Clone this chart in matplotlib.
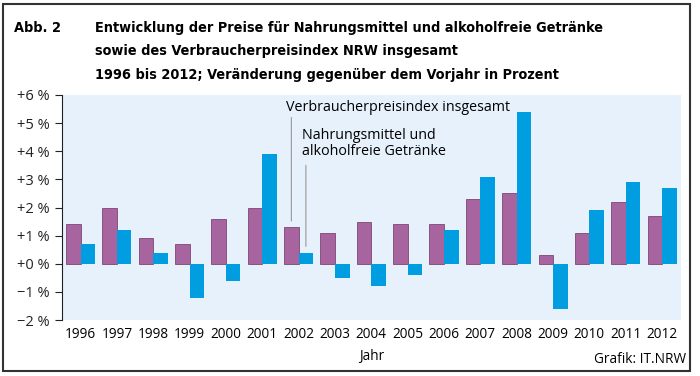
import matplotlib.pyplot as plt
import numpy as np
from matplotlib.patches import Rectangle

years = ['1996', '1997', '1998', '1999', '2000', '2001', '2002', '2003', '2004',
         '2005', '2006', '2007', '2008', '2009', '2010', '2011', '2012']
vpi = [1.4, 2.0, 0.9, 0.7, 1.6, 2.0, 1.3, 1.1, 1.5, 1.4, 1.4, 2.3, 2.5, 0.3, 1.1, 2.2, 1.7]
nahrung = [0.7, 1.2, 0.4, -1.2, -0.6, 3.9, 0.4, -0.5, -0.8, -0.4, 1.2, 3.1, 5.4, -1.6, 1.9, 2.9, 2.7]
yticks = [-2, -1, 0, 1, 2, 3, 4, 5, 6]
ylabels = ['\u22122 %', '\u22121 %', '+0 %', '+1 %', '+2 %', '+3 %', '+4 %', '+5 %', '+6 %']

plt.rcParams['font.family'] = ['Open Sans', 'DejaVu Sans']

fig = plt.figure(figsize=(7, 3.76), dpi=100)
ax = fig.add_axes([62 / 700, 1 - 320 / 376, (681 - 62) / 700, (320 - 95) / 376])
ax.set_facecolor('#e6f1fb')

x = np.arange(len(years))
w = 0.4
ax.bar(x - w / 2, vpi, w, color='#a8649e', edgecolor='#7d4674', linewidth=0.6)
ax.bar(x + w / 2, nahrung, w, color='#009ee0', linewidth=0)

ax.set_xlim(-0.51, len(years) - 0.48)
ax.set_ylim(-2, 6)
ax.set_yticks(yticks)
ax.set_yticklabels(ylabels, fontsize=10.5)
ax.set_xticks(x)
ax.set_xticklabels(years, fontsize=9.8)
ax.tick_params(axis='x', length=0, pad=5)
ax.tick_params(axis='y', length=5, width=0.8, pad=4, colors='#222222')
for s in ['top', 'right', 'bottom']:
    ax.spines[s].set_visible(False)
ax.spines['left'].set_color('#222222')
ax.spines['left'].set_linewidth(0.8)

# Beschriftungen mit Hinweislinien
i = years.index('2002')
ax.annotate('', xy=(i - w / 2, vpi[i] + 0.12), xytext=(i - w / 2, 5.3),
            arrowprops=dict(arrowstyle='-', color='#999999', lw=0.8))
ax.text(i - w / 2 - 0.15, 5.55, 'Verbraucherpreisindex insgesamt', fontsize=10.3, va='center')
ax.annotate('', xy=(i + w / 2, nahrung[i] + 0.12), xytext=(i + w / 2, 3.6),
            arrowprops=dict(arrowstyle='-', color='#999999', lw=0.8))
ax.text(i + w / 2 - 0.1, 4.28, 'Nahrungsmittel und\nalkoholfreie Getränke', fontsize=10.3,
        va='center', linespacing=1.1)

ax.set_xlabel('Jahr', fontsize=9.8, labelpad=5)
fig.text(0.98, 0.045, 'Grafik: IT.NRW', fontsize=9.8, ha='right', va='center')

title_kw = dict(fontsize=10.4, fontweight='bold', family='DejaVu Sans', fontstretch='condensed', va='center')
fig.text(14 / 700, 1 - 28 / 376, 'Abb. 2', **title_kw)
lines = ['Entwicklung der Preise für Nahrungsmittel und alkoholfreie Getränke',
         'sowie des Verbraucherpreisindex NRW insgesamt',
         '1996 bis 2012; Veränderung gegenüber dem Vorjahr in Prozent']
for k, t in enumerate(lines):
    fig.text(95 / 700, 1 - (28 + 23.5 * k) / 376, t, **title_kw)

fig.patches.append(Rectangle((3 / 700, 5 / 376), 687 / 700, 367 / 376, transform=fig.transFigure,
                             fill=False, edgecolor='#333333', linewidth=1.5))

fig.savefig('out.png', dpi=100)
